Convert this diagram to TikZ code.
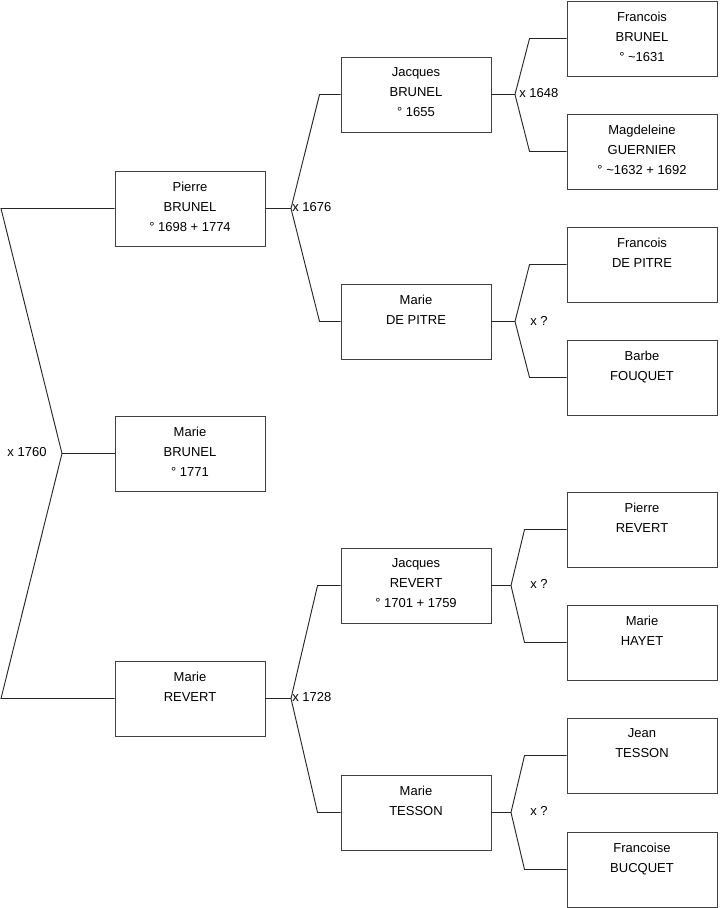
\documentclass[tikz,border=0pt]{standalone}
\usepackage{fontspec}
\setmainfont{Liberation Sans}
\usetikzlibrary{calc}
\begin{document}
\begin{tikzpicture}[x=0.75pt,y=-0.75pt,
  person/.style={draw=black!75, line width=0.7pt, minimum width=112.5pt, minimum height=56.25pt, inner sep=0pt},
  txt/.style={anchor=north, align=center, inner sep=0pt, font=\fontsize{9.75}{15}\selectfont, yshift=-8.4pt},
  lbl/.style={inner sep=0pt, font=\fontsize{9.75}{12}\selectfont},
  conn/.style={draw=black!85, line width=0.7pt}]
\useasboundingbox (0,0) rectangle (719,908);
% generation 1
\node[person] (pb) at (190,208.5) {};
\node[txt] (pbt) at (pb.north) {Pierre\\BRUNEL\\° 1698 + 1774};
\node[person] (mb) at (190,453.5) {};
\node[txt] (mbt) at (mb.north) {Marie\\BRUNEL\\° 1771};
\node[person] (mr) at (190,698.5) {};
\node[txt] (mrt) at (mr.north) {Marie\\REVERT};
% generation 2
\node[person] (jb) at (416,94.5) {};
\node[txt] (jbt) at (jb.north) {Jacques\\BRUNEL\\° 1655};
\node[person] (dp) at (416,321.5) {};
\node[txt] (dpt) at (dp.north) {Marie\\DE PITRE};
\node[person] (jr) at (416,585.5) {};
\node[txt] (jrt) at (jr.north) {Jacques\\REVERT\\° 1701 + 1759};
\node[person] (mt) at (416,812.5) {};
\node[txt] (mtt) at (mt.north) {Marie\\TESSON};
% generation 3
\node[person] (fb) at (642,38.5) {};
\node[txt] (fbt) at (fb.north) {Francois\\BRUNEL\\° \textasciitilde1631};
\node[person] (mg) at (642,151.5) {};
\node[txt] (mgt) at (mg.north) {Magdeleine\\GUERNIER\\° \textasciitilde1632 + 1692};
\node[person] (fp) at (642,264.5) {};
\node[txt] (fpt) at (fp.north) {Francois\\DE PITRE};
\node[person] (bf) at (642,377.5) {};
\node[txt] (bft) at (bf.north) {Barbe\\FOUQUET};
\node[person] (pr) at (642,529.5) {};
\node[txt] (prt) at (pr.north) {Pierre\\REVERT};
\node[person] (mh) at (642,642.5) {};
\node[txt] (mht) at (mh.north) {Marie\\HAYET};
\node[person] (jt) at (642,755.5) {};
\node[txt] (jtt) at (jt.north) {Jean\\TESSON};
\node[person] (fq) at (642,869.5) {};
\node[txt] (fqt) at (fq.north) {Francoise\\BUCQUET};
% vertices
\coordinate (v0) at (62,453.5);
\coordinate (v1) at (291,208.5);
\coordinate (v2) at (291,698.5);
\coordinate (v3) at (515,94.5);
\coordinate (v4) at (515,321.5);
\coordinate (v5) at (511,585.5);
\coordinate (v6) at (511,812.5);
% connectors
\draw[conn] (pb.west) -- (1,208.5) -- (v0) -- (1,698.5) -- (mr.west);
\draw[conn] (v0) -- (mb.west);
\draw[conn] (pb.east) -- (v1);
\draw[conn] (jb.west) -- ++(-21,0) -- (v1) -- ($(dp.west)+(-21,0)$) -- (dp.west);
\draw[conn] (mr.east) -- (v2);
\draw[conn] (jr.west) -- ++(-23,0) -- (v2) -- ($(mt.west)+(-23,0)$) -- (mt.west);
\draw[conn] (jb.east) -- (v3);
\draw[conn] (fb.west) -- ++(-37,0) -- (v3) -- ($(mg.west)+(-37,0)$) -- (mg.west);
\draw[conn] (dp.east) -- (v4);
\draw[conn] (fp.west) -- ++(-37,0) -- (v4) -- ($(bf.west)+(-37,0)$) -- (bf.west);
\draw[conn] (jr.east) -- (v5);
\draw[conn] (pr.west) -- ++(-42,0) -- (v5) -- ($(mh.west)+(-42,0)$) -- (mh.west);
\draw[conn] (mt.east) -- (v6);
\draw[conn] (jt.west) -- ++(-42,0) -- (v6) -- ($(fq.west)+(-42,0)$) -- (fq.west);
% labels
\node[lbl] (l0) at (27,452) {x 1760};
\node[lbl, anchor=west] (l1) at (292,207) {x 1676};
\node[lbl, anchor=west] (l2) at (292,697.5) {x 1728};
\node[lbl, anchor=west] (l3) at (519,93) {x 1648};
\node[lbl] (l4) at (539,320.5) {x ?};
\node[lbl] (l5) at (539,584) {x ?};
\node[lbl] (l6) at (539,811) {x ?};
\end{tikzpicture}
\end{document}
